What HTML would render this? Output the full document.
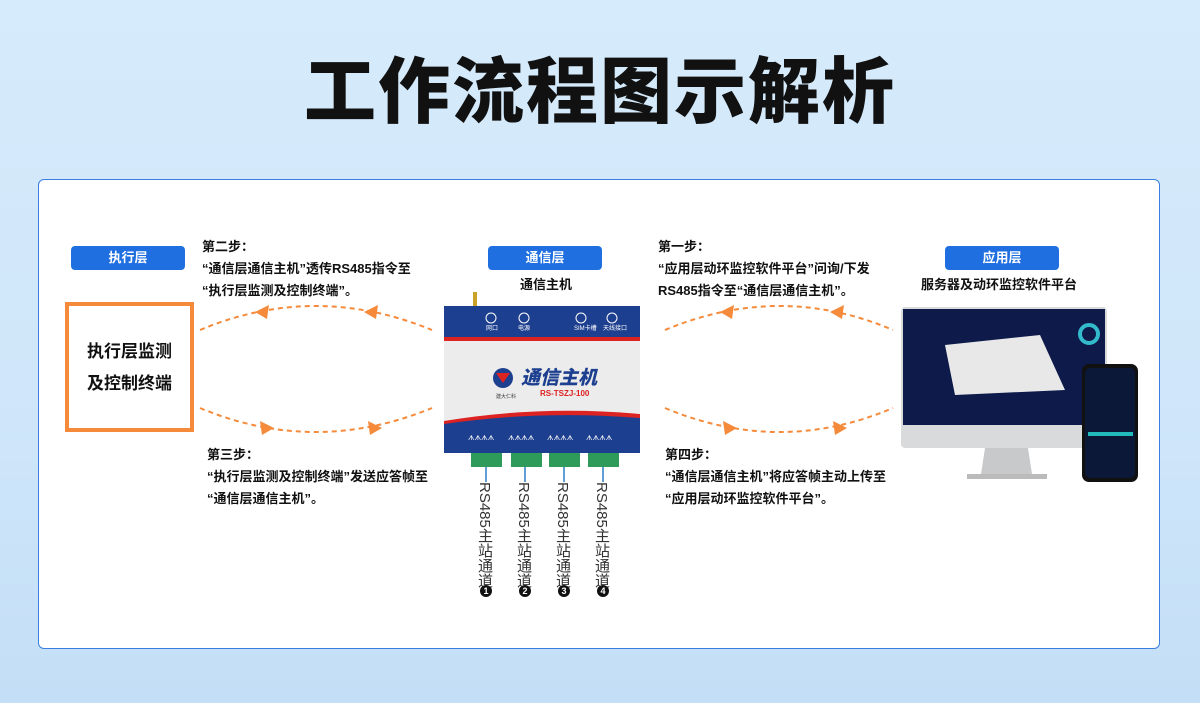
<!DOCTYPE html>
<html><head><meta charset="utf-8"><style>
*{margin:0;padding:0;box-sizing:border-box}
body{width:1200px;height:703px;overflow:hidden;position:relative;font-family:"Liberation Sans","Noto Sans CJK SC",sans-serif;background:linear-gradient(180deg,#d6ebfb 0%,#cfe6fa 60%,#c3def6 100%)}
.t{position:absolute;left:0;width:1200px;top:50px;text-align:center;font-size:72px;line-height:86px;font-weight:900;color:#111;letter-spacing:2px}
.panel{position:absolute;left:38px;top:179px;width:1122px;height:470px;background:#fff;border:1px solid #3a7fe0;border-radius:6px}
.tag{position:absolute;height:24px;width:114px;background:#1f6fe0;color:#fff;font-size:13px;font-weight:bold;text-align:center;line-height:24px;border-radius:4px}
.tx{position:absolute;font-size:13px;font-weight:bold;color:#111;line-height:22px;white-space:nowrap}
.box{position:absolute;left:65px;top:302px;width:129px;height:130px;border:4px solid #f58a3a;font-size:17px;font-weight:bold;text-align:center;line-height:32px;padding-top:30px;color:#111}
.ch{position:absolute;top:482px;font-size:15px;color:#333;writing-mode:vertical-rl;line-height:14px}
svg{position:absolute;left:0;top:0}
</style></head><body>
<div class="t">工作流程图示解析</div>
<div class="panel"></div>
<div class="tag" style="left:71px;top:246px">执行层</div>
<div class="tag" style="left:488px;top:246px">通信层</div>
<div class="tag" style="left:945px;top:246px">应用层</div>
<div class="tx" style="left:520px;top:274px;font-size:13px">通信主机</div>
<div class="tx" style="left:921px;top:274px">服务器及动环监控软件平台</div>
<div class="tx" style="left:202px;top:236px">第二步：<br>“通信层通信主机”透传RS485指令至<br>“执行层监测及控制终端”。</div>
<div class="tx" style="left:207px;top:444px">第三步：<br>“执行层监测及控制终端”发送应答帧至<br>“通信层通信主机”。</div>
<div class="tx" style="left:658px;top:236px">第一步：<br>“应用层动环监控软件平台”问询/下发<br>RS485指令至“通信层通信主机”。</div>
<div class="tx" style="left:665px;top:444px">第四步：<br>“通信层通信主机”将应答帧主动上传至<br>“应用层动环监控软件平台”。</div>
<div class="box">执行层监测<br>及控制终端</div>
<div class="ch" style="left:477px">RS485主站通道</div>
<div class="ch" style="left:516px">RS485主站通道</div>
<div class="ch" style="left:555px">RS485主站通道</div>
<div class="ch" style="left:594px">RS485主站通道</div>
<svg width="1200" height="703" viewBox="0 0 1200 703">
<g fill="none" stroke="#f58a3a" stroke-width="2" stroke-dasharray="5,4">
<path d="M200 330 Q315 282 432 330"/><path d="M200 408 Q315 456 432 408"/>
<path d="M665 330 Q780 282 893 330"/><path d="M665 408 Q780 456 893 408"/>
</g>
<g fill="#f58a3a">
<path d="M255 312 l14 -7 l-2 14z"/><path d="M364 312 l14 -7 l-2 14z"/>
<path d="M274 428 l-14 -7 l2 14z"/><path d="M382 428 l-14 -7 l2 14z"/>
<path d="M720 312 l14 -7 l-2 14z"/><path d="M830 312 l14 -7 l-2 14z"/>
<path d="M737 428 l-14 -7 l2 14z"/><path d="M847 428 l-14 -7 l2 14z"/>
</g>
<rect x="473" y="292" width="4" height="16" fill="#c9a227"/>
<rect x="444" y="306" width="196" height="34" fill="#1d3f8f"/>
<rect x="444" y="337" width="196" height="4" fill="#d22"/>
<rect x="444" y="341" width="196" height="80" fill="#ececec"/>
<path d="M444 421 L444 428 L640 428 L640 414 Q540 405 444 421z" fill="#d22"/>
<path d="M444 424 Q540 410 640 418 L640 453 L444 453z" fill="#1d3f8f"/>
<g fill="#fff" font-size="6"><text x="486" y="330">网口</text><text x="518" y="330">电源</text><text x="574" y="330">SIM卡槽</text><text x="603" y="330">天线接口</text></g>
<circle cx="491" cy="318" r="5" fill="none" stroke="#fff"/><circle cx="524" cy="318" r="5" fill="none" stroke="#fff"/><circle cx="581" cy="318" r="5" fill="none" stroke="#fff"/><circle cx="612" cy="318" r="5" fill="none" stroke="#fff"/>
<circle cx="503" cy="378" r="10" fill="#1d3f8f"/><path d="M496 373 l14 0 l-7 10z" fill="#d22"/>
<text x="521" y="384" font-size="19" font-weight="900" font-style="italic" fill="#1d3f8f">通信主机</text>
<text x="540" y="396" font-size="8" font-weight="bold" fill="#d22">RS-TSZJ-100</text>
<text x="496" y="398" font-size="5" fill="#333">建大仁科</text>
<g fill="#fff" font-size="7"><text x="468" y="440">ᗑᗑᗑᗑ</text><text x="508" y="440">ᗑᗑᗑᗑ</text><text x="547" y="440">ᗑᗑᗑᗑ</text><text x="586" y="440">ᗑᗑᗑᗑ</text></g>
<g fill="#2e9b5a"><rect x="471" y="453" width="31" height="14"/><rect x="511" y="453" width="31" height="14"/><rect x="549" y="453" width="31" height="14"/><rect x="588" y="453" width="31" height="14"/></g>
<g stroke="#2a7fc8" stroke-width="1.5"><line x1="486" y1="467" x2="486" y2="482"/><line x1="525" y1="467" x2="525" y2="482"/><line x1="564" y1="467" x2="564" y2="482"/><line x1="603" y1="467" x2="603" y2="482"/></g>
<g fill="#111"><circle cx="486" cy="591" r="6"/><circle cx="525" cy="591" r="6"/><circle cx="564" cy="591" r="6"/><circle cx="603" cy="591" r="6"/></g>
<g fill="#fff" font-size="9" font-weight="bold" text-anchor="middle"><text x="486" y="594">1</text><text x="525" y="594">2</text><text x="564" y="594">3</text><text x="603" y="594">4</text></g>
<rect x="901" y="307" width="206" height="141" rx="4" fill="#d9dadc"/>
<rect x="903" y="309" width="202" height="116" fill="#0d1a4a"/>
<path d="M945 345 L1040 335 L1065 390 L955 395z" fill="#e8e8e8"/>
<rect x="1080" y="325" width="18" height="18" rx="9" fill="none" stroke="#3bc" stroke-width="4"/>
<path d="M985 448 L1028 448 L1032 474 L981 474z" fill="#c8c9cb"/>
<rect x="967" y="474" width="80" height="5" fill="#bbb"/>
<rect x="1082" y="364" width="56" height="118" rx="7" fill="#111"/>
<rect x="1085" y="368" width="50" height="110" rx="5" fill="#0b1838"/>
<rect x="1088" y="432" width="45" height="4" fill="#2bb"/>
</svg>
</body></html>
